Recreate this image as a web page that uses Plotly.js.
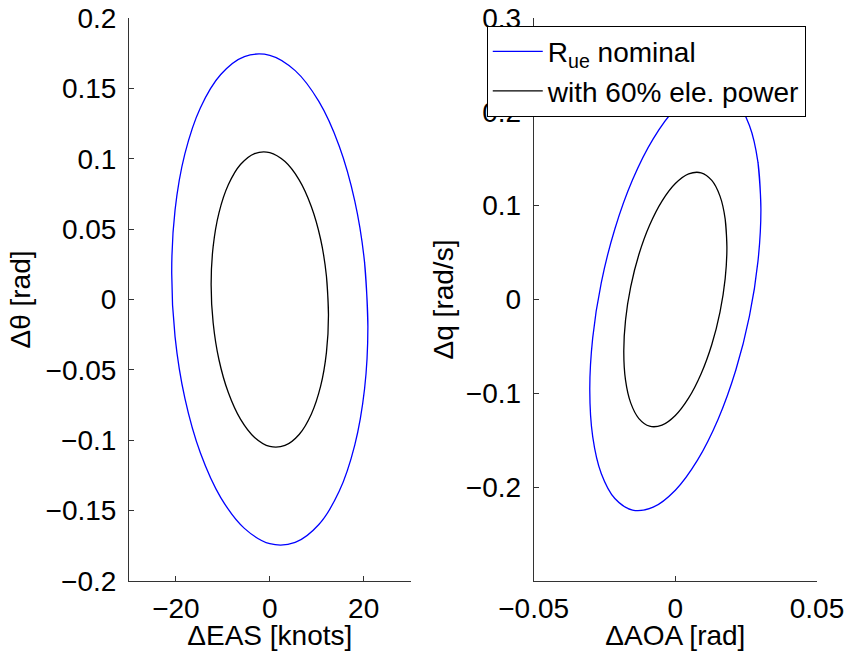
<!DOCTYPE html>
<html>
<head>
<meta charset="utf-8">
<script src="https://cdn.plot.ly/plotly-3.0.1.min.js"></script>
<style>html,body{margin:0;padding:0;background:#fff;}</style>
</head>
<body>
<div id="chart" style="width:847px;height:651px;"></div>
<script>
// Left panel: ΔEAS [knots] vs Δθ [rad]
const blueEAS   = [20.9, 20.19, 18.10, 14.78, 10.45, 5.41, 0, -5.41, -10.45, -14.78, -18.10, -20.19,
                   -20.9, -20.19, -18.10, -14.78, -10.45, -5.41, 0, 5.41, 10.45, 14.78, 18.10, 20.19, 20.9, 20.19];
const blueTheta = [-0.0192, 0.0264, 0.0701, 0.1091, 0.1407, 0.1626, 0.1735, 0.1726, 0.1599, 0.1363, 0.1034, 0.0635,
                   0.0192, -0.0264, -0.0701, -0.1091, -0.1407, -0.1626, -0.1735, -0.1726, -0.1599, -0.1363, -0.1034, -0.0635, -0.0192, 0.0264];
const blackEAS   = [12.5, 12.07, 10.83, 8.84, 6.25, 3.24, 0, -3.24, -6.25, -8.84, -10.83, -12.07,
                    -12.5, -12.07, -10.83, -8.84, -6.25, -3.24, 0, 3.24, 6.25, 8.84, 10.83, 12.07, 12.5, 12.07];
const blackTheta = [-0.0109, 0.0165, 0.0428, 0.0661, 0.0850, 0.0980, 0.1044, 0.1037, 0.0959, 0.0815, 0.0616, 0.0376,
                    0.0109, -0.0165, -0.0428, -0.0661, -0.0850, -0.0980, -0.1044, -0.1037, -0.0959, -0.0815, -0.0616, -0.0376, -0.0109, 0.0165];

// Right panel: ΔAOA [rad] vs Δq [rad/s]
const blueAOA = [0.0302, 0.02917, 0.02615, 0.02135, 0.0151, 0.00782, 0, -0.00782, -0.0151, -0.02135, -0.02615, -0.02917,
                 -0.0302, -0.02917, -0.02615, -0.02135, -0.0151, -0.00782, 0, 0.00782, 0.0151, 0.02135, 0.02615, 0.02917, 0.0302, 0.02917];
const blueQ   = [0.0968, 0.1461, 0.1854, 0.2121, 0.2244, 0.2213, 0.2032, 0.1712, 0.1276, 0.0752, 0.0178, -0.0409,
                 -0.0968, -0.1461, -0.1854, -0.2121, -0.2244, -0.2213, -0.2032, -0.1712, -0.1276, -0.0752, -0.0178, 0.0409, 0.0968, 0.1461];
const blackAOA = [0.0182, 0.01758, 0.01576, 0.01287, 0.0091, 0.00471, 0, -0.00471, -0.0091, -0.01287, -0.01576, -0.01758,
                  -0.0182, -0.01758, -0.01576, -0.01287, -0.0091, -0.00471, 0, 0.00471, 0.0091, 0.01287, 0.01576, 0.01758, 0.0182, 0.01758];
const blackQ   = [0.0559, 0.0860, 0.1102, 0.1269, 0.1350, 0.1339, 0.1236, 0.1049, 0.0791, 0.0479, 0.0134, -0.0220,
                  -0.0559, -0.0860, -0.1102, -0.1269, -0.1350, -0.1339, -0.1236, -0.1049, -0.0791, -0.0479, -0.0134, 0.0220, 0.0559, 0.0860];

// Tick labels
const easTickVals = [-20, 0, 20];
const easTickText = ['\u221220', '0', '20'];
const thetaTickVals = [-0.2, -0.15, -0.1, -0.05, 0, 0.05, 0.1, 0.15, 0.2];
const thetaTickText = ['\u22120.2', '\u22120.15', '\u22120.1', '\u22120.05', '0', '0.05', '0.1', '0.15', '0.2'];
const aoaTickVals = [-0.05, 0, 0.05];
const aoaTickText = ['\u22120.05', '0', '0.05'];
const qTickVals = [-0.2, -0.1, 0, 0.1, 0.2, 0.3];
const qTickText = ['\u22120.2', '\u22120.1', '0', '0.1', '0.2', '0.3'];

const seriesNames = ['R<sub>ue</sub> nominal', 'with 60% ele. power'];

const FONT = 'Liberation Sans, Arial, Helvetica, sans-serif';
const FS = 28;
const AX = '#333333';

const traces = [
  {x: blueEAS, y: blueTheta, xaxis: 'x', yaxis: 'y', mode: 'lines', name: seriesNames[0],
   line: {color: '#0000ff', width: 1.3, shape: 'spline', smoothing: 1}, showlegend: true, hoverinfo: 'skip'},
  {x: blackEAS, y: blackTheta, xaxis: 'x', yaxis: 'y', mode: 'lines', name: seriesNames[1],
   line: {color: '#000000', width: 1.3, shape: 'spline', smoothing: 1}, showlegend: true, hoverinfo: 'skip'},
  {x: blueAOA, y: blueQ, xaxis: 'x2', yaxis: 'y2', mode: 'lines', name: seriesNames[0],
   line: {color: '#0000ff', width: 1.3, shape: 'spline', smoothing: 1}, showlegend: false, hoverinfo: 'skip'},
  {x: blackAOA, y: blackQ, xaxis: 'x2', yaxis: 'y2', mode: 'lines', name: seriesNames[1],
   line: {color: '#000000', width: 1.3, shape: 'spline', smoothing: 1}, showlegend: false, hoverinfo: 'skip'}
];

function axisBase() {
  return {
    showgrid: false, zeroline: false, showline: true, linecolor: AX, linewidth: 1,
    ticks: 'inside', ticklen: 5, tickcolor: AX, tickwidth: 1,
    tickfont: {family: FONT, size: FS, color: '#000'},
    fixedrange: true
  };
}

const layout = {
  width: 847, height: 651,
  margin: {l: 129, r: 30, t: 18, b: 70, pad: 0},
  paper_bgcolor: '#ffffff', plot_bgcolor: '#ffffff',
  font: {family: FONT, size: FS, color: '#000'},
  showlegend: true,
  xaxis: Object.assign(axisBase(), {
    domain: [0, 0.4093], range: [-30, 30], anchor: 'y',
    tickmode: 'array', tickvals: easTickVals, ticktext: easTickText, ticklabelstandoff: 2,
    title: {text: '\u0394EAS [knots]', font: {family: FONT, size: FS, color: '#000'}, standoff: 9}
  }),
  yaxis: Object.assign(axisBase(), {
    domain: [0, 1], range: [-0.2, 0.2], anchor: 'x',
    tickmode: 'array', tickvals: thetaTickVals, ticktext: thetaTickText, ticklabelstandoff: 6,
    title: {text: '\u0394\u03b8 [rad]', font: {family: FONT, size: FS, color: '#000'}, standoff: 6}
  }),
  xaxis2: Object.assign(axisBase(), {
    domain: [0.5882, 1], range: [-0.05, 0.05], anchor: 'y2',
    tickmode: 'array', tickvals: aoaTickVals, ticktext: aoaTickText, ticklabelstandoff: 2,
    title: {text: '\u0394AOA [rad]', font: {family: FONT, size: FS, color: '#000'}, standoff: 9}
  }),
  yaxis2: Object.assign(axisBase(), {
    domain: [0, 1], range: [-0.3, 0.3], anchor: 'x2',
    tickmode: 'array', tickvals: qTickVals, ticktext: qTickText, ticklabelstandoff: 6,
    title: {text: '\u0394q [rad/s]', font: {family: FONT, size: FS, color: '#000'}, standoff: 4}
  }),
  legend: {
    x: 0.52, y: 0.9863, xanchor: 'left', yanchor: 'top',
    bgcolor: '#ffffff', bordercolor: '#000000', borderwidth: 1,
    font: {family: FONT, size: FS, color: '#000'},
    itemwidth: 50, tracegroupgap: 0
  }
};

Plotly.newPlot('chart', traces, layout, {staticPlot: true, displayModeBar: false});
</script>
</body>
</html>
